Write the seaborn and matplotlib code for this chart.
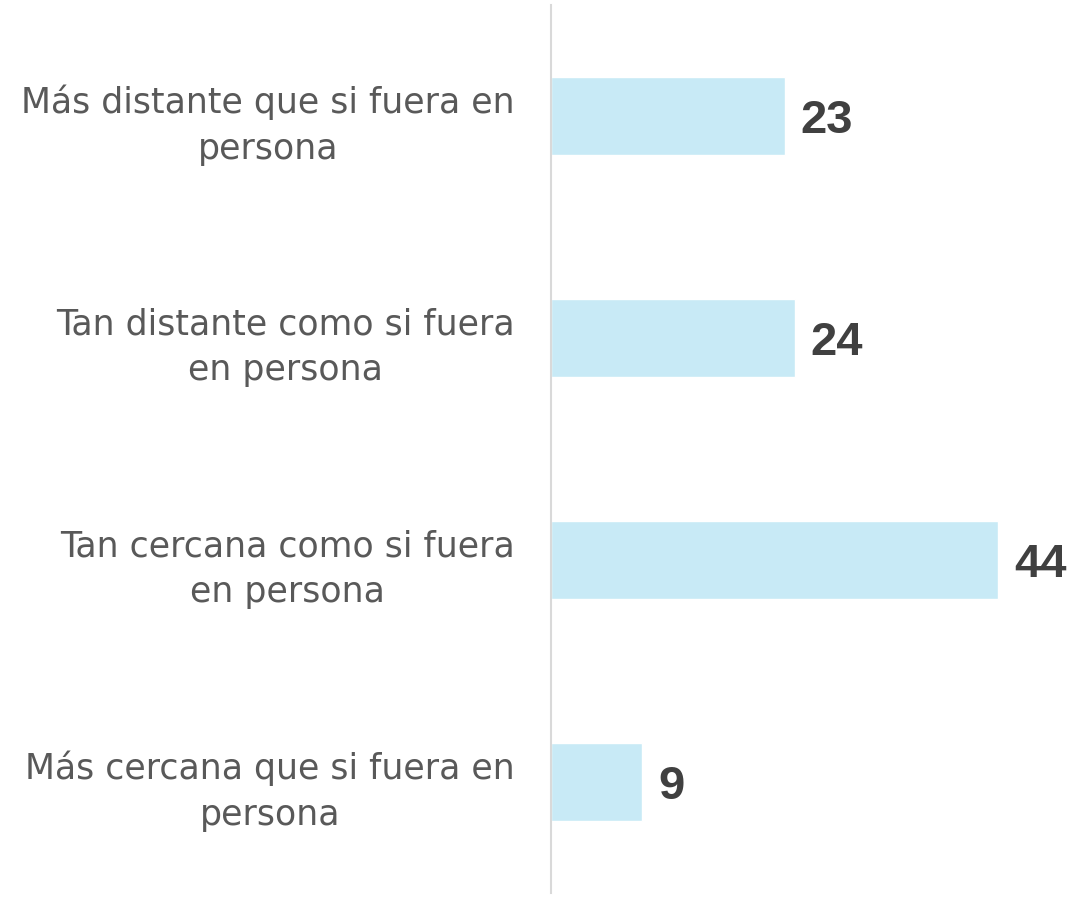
import matplotlib
matplotlib.use("Agg")
import matplotlib.pyplot as plt
import seaborn as sns
import pandas as pd

categories = [
    "Más distante que si fuera en\npersona",
    "Tan distante como si fuera\nen persona",
    "Tan cercana como si fuera\nen persona",
    "Más cercana que si fuera en\npersona",
]
values = [23, 24, 44, 9]

df = pd.DataFrame({"cat": categories, "val": values})

sns.set_theme(style="white")
plt.rcParams["font.family"] = ["Liberation Sans", "DejaVu Sans"]

fig = plt.figure(figsize=(10.89, 8.99), dpi=100)
ax = fig.add_axes([551 / 1089, 6 / 899, 538 / 1089, 888 / 899])

sns.barplot(data=df, x="val", y="cat", orient="h", color="#C8EAF6",
            saturation=1, width=0.35, ax=ax)

ax.set_xlim(0, 52.95)
ax.set_ylim(3.5, -0.5)
ax.set_xlabel("")
ax.set_ylabel("")
ax.set_xticks([])
for s in ["top", "right", "bottom"]:
    ax.spines[s].set_visible(False)
ax.spines["left"].set_color("#D9D9D9")
ax.spines["left"].set_linewidth(1.5)

ax.tick_params(axis="y", length=0, pad=26)
for lbl in ax.get_yticklabels():
    lbl.set_fontsize(25)
    lbl.set_family(["DejaVu Sans"])
    lbl.set_color("#595959")
    lbl.set_multialignment("center")
    lbl.set_linespacing(1.42)
    lbl.set_y(lbl.get_position()[1])

for lbl in ax.get_yticklabels():
    lbl.set_verticalalignment("center_baseline")

for i, v in enumerate(values):
    ax.text(v + 1.55, i + 0.075, str(v), va="baseline", ha="left", fontsize=34,
            fontweight="bold", color="#404040")

fig.savefig("out.png", dpi=100)
